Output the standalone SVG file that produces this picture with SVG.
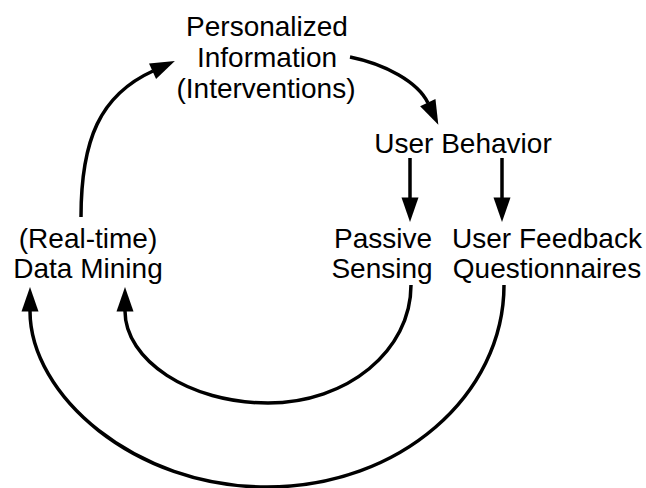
<svg xmlns="http://www.w3.org/2000/svg" width="646" height="488" viewBox="0 0 646 488">
  <style>
    text { font-family: "Liberation Sans", Arial, Helvetica, sans-serif; font-size: 28px; fill: #000; text-anchor: middle; }
    .conn { fill: none; stroke: #000; stroke-width: 3.5; marker-end: url(#ah); }
  </style>
  <defs>
    <marker id="ah" markerWidth="24" markerHeight="17" refX="0" refY="8.5" orient="auto" markerUnits="userSpaceOnUse" overflow="visible">
      <path d="M-0.5,0 L24,8.5 L-0.5,17 z" fill="#000"/>
    </marker>
  </defs>
  <rect width="646" height="488" fill="#fff"/>
  <g id="connectors">
    <path class="conn" d="M81,217 C81,140 100,95 153,71"/>
    <path class="conn" d="M350,57 C385,64 418,82 428,103"/>
    <path class="conn" d="M410,158 L410,198"/>
    <path class="conn" d="M502,158 L502,198"/>
    <path class="conn" d="M411,285 C411,351 347,403 268,403 C189,403 125,360 125,311"/>
    <path class="conn" d="M504,285 C504,395 400,487 267,487 C134,487 30,395 30,311"/>
  </g>
  <g id="node-personalized">
    <text x="267" y="36">Personalized</text>
    <text x="267" y="67">Information</text>
    <text x="266" y="98">(Interventions)</text>
  </g>
  <g id="node-user-behavior">
    <text x="463" y="153">User Behavior</text>
  </g>
  <g id="node-data-mining">
    <text x="88" y="248">(Real-time)</text>
    <text x="88" y="278">Data Mining</text>
  </g>
  <g id="node-passive-sensing">
    <text x="383" y="248">Passive</text>
    <text x="382" y="278">Sensing</text>
  </g>
  <g id="node-user-feedback">
    <text x="547" y="248">User Feedback</text>
    <text x="547" y="278">Questionnaires</text>
  </g>
</svg>
